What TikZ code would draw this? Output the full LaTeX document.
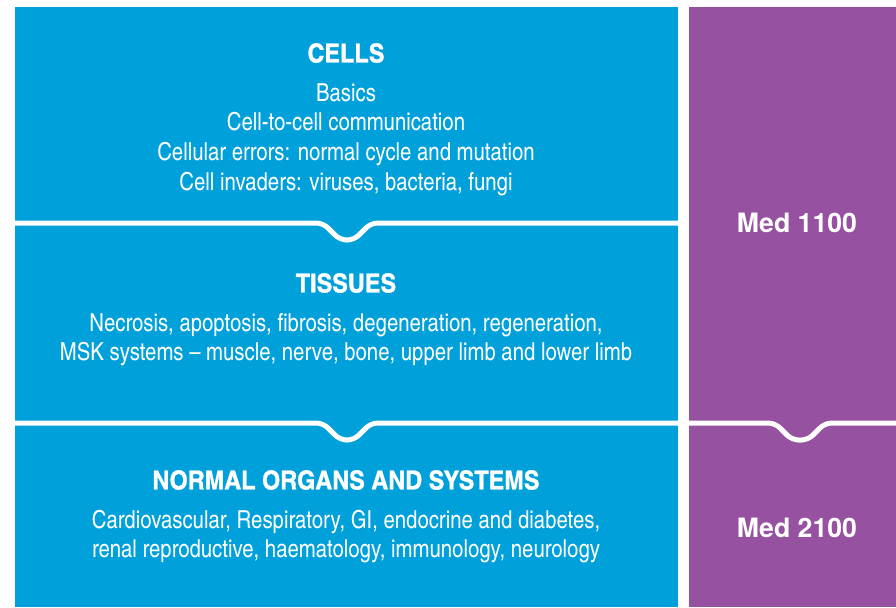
\documentclass[tikz,border=0pt]{standalone}
\usepackage{fontspec}
\newfontfamily\condfont[Ligatures=TeX]{TeX Gyre Heros Cn}
\newfontfamily\headfont[Ligatures=TeX,FakeStretch=1.1,BoldFeatures={FakeBold=1.2}]{TeX Gyre Heros Cn}
\newfontfamily\medfont{TeX Gyre Heros}
\usetikzlibrary{positioning}
\definecolor{cellblue}{RGB}{0,160,219}
\definecolor{medpurple}{RGB}{150,82,160}

\begin{document}
\begin{tikzpicture}[x=0.75pt,y=-0.75pt,
	panel/.style={fill=#1, draw=none},
	divider/.style={draw=white, line width=3.75pt, rounded corners=5pt},
	head/.style={text=white, inner sep=0pt, font=\headfont\bfseries\fontsize{19.5}{22}\selectfont},
	medlabel/.style={text=white, inner sep=0pt, font=\medfont\bfseries\fontsize{20}{22}\selectfont},
	body/.style={text=white, inner sep=0pt, align=center, font=\condfont\fontsize{18.6}{22.3}\selectfont}]
	\useasboundingbox (0,0) rectangle (896,607);
	
	% panels
	\fill[panel=cellblue] (15,7) rectangle (678,607);
	\fill[panel=medpurple] (689,7) rectangle (896,607);
	
	% dividers with notches
	\draw[divider] (15,223) -- (323,223) -- (340,240) -- (354,240) -- (371,223) -- (678,223);
	\draw[divider] (15,423) -- (323,423) -- (340,440) -- (354,440) -- (371,423) -- (678,423);
	\draw[divider] (689,423) -- (775,423) -- (792,440) -- (808,440) -- (825,423) -- (896,423);
	
	% blue column
	\node[head] (cells) at (346,53) {CELLS};
	\node[body] (cellstext) at (346,139.5) {Basics\\Cell-to-cell communication\\Cellular errors: normal cycle and mutation\\Cell invaders: viruses, bacteria, fungi};
	\node[head] (tissues) at (346,283) {TISSUES};
	\node[body] (tissuestext) at (346,339.5) {Necrosis, apoptosis, fibrosis, degeneration, regeneration,\\MSK systems -- muscle, nerve, bone, upper limb and lower limb};
	\node[head] (organs) at (346,480) {NORMAL ORGANS AND SYSTEMS};
	\node[body] (organstext) at (346,536.5) {Cardiovascular, Respiratory, GI, endocrine and diabetes,\\renal reproductive, haematology, immunology, neurology};
	
	% purple column
	\node[medlabel] (med1) at (797,223) {Med 1100};
	\node[medlabel] (med2) at (797,528) {Med 2100};
\end{tikzpicture}
\end{document}
